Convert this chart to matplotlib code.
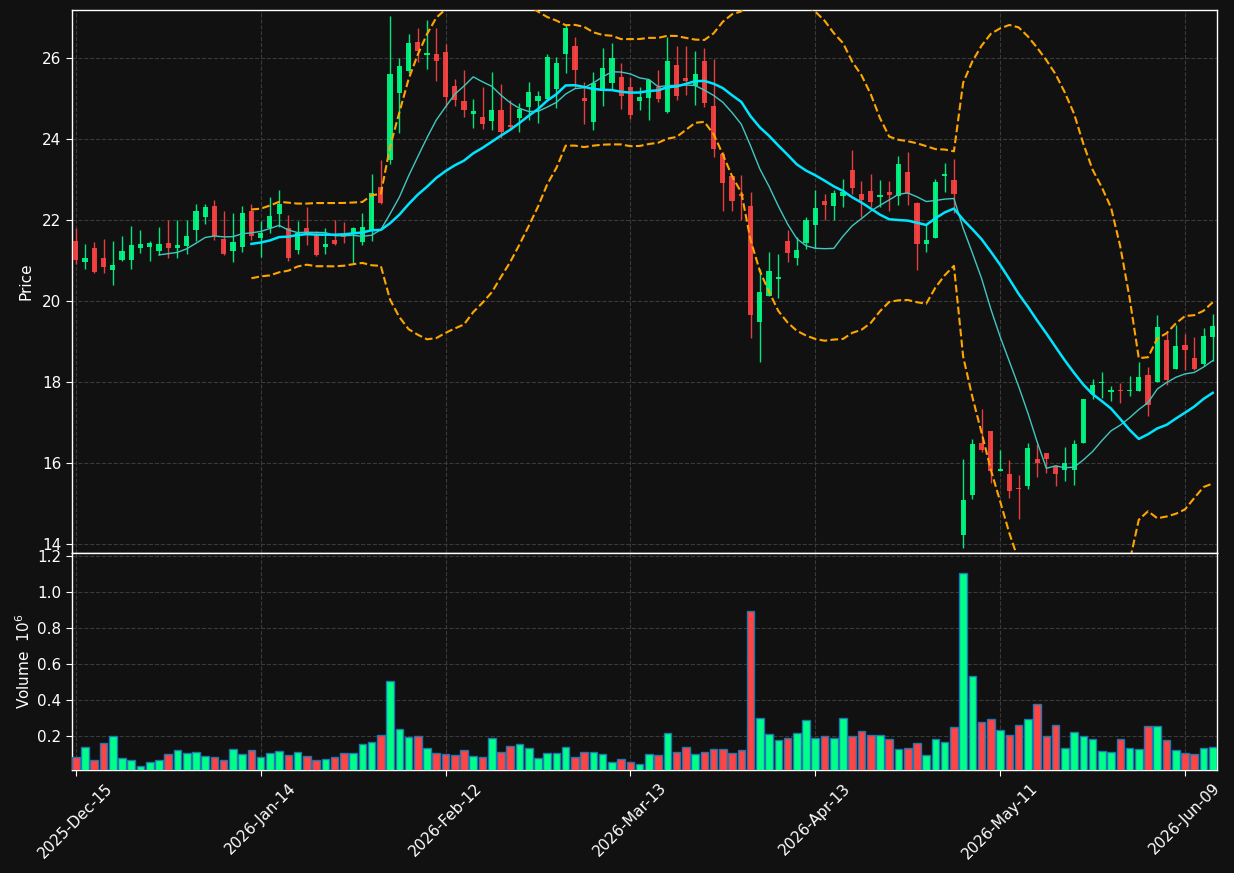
import numpy as np
import pandas as pd
import matplotlib
matplotlib.use("Agg")
import matplotlib.pyplot as plt

# ---------------- data ----------------
tick_positions = [0, 20, 40, 60, 80, 100, 120]
tick_labels = ["2025-Dec-15", "2026-Jan-14", "2026-Feb-12", "2026-Mar-13",
               "2026-Apr-13", "2026-May-11", "2026-Jun-09"]

opens = [21.48, 20.97, 21.31, 21.06, 20.77, 21.01, 21.01, 21.31, 21.33, 21.23,
         21.43, 21.31, 21.35, 21.75, 22.07, 22.34, 21.53, 21.23, 21.33, 22.22,
         21.56, 21.79, 22.14, 21.81, 21.26, 21.79, 21.62, 21.34, 21.50, 21.62,
         21.68, 21.46, 21.75, 22.80, 23.47, 25.13, 25.67, 26.40, 26.07, 26.10,
         26.15, 25.31, 24.93, 24.61, 24.55, 24.44, 24.70, 24.33, 24.51, 24.78,
         24.93, 24.98, 25.22, 26.09, 26.30, 25.01, 24.42, 25.18, 25.39, 25.52,
         25.27, 24.93, 25.01, 25.29, 24.66, 25.83, 25.51, 25.30, 25.91, 24.80,
         23.62, 23.08, 22.65, 22.34, 19.47, 20.13, 20.55, 21.48, 21.07, 21.42,
         21.88, 22.46, 22.35, 22.60, 23.23, 22.63, 22.71, 22.57, 22.68, 22.60,
         23.18, 22.41, 21.41, 21.56, 23.09, 22.98, 14.22, 15.21, 16.50, 16.80,
         15.80, 15.74, 15.37, 15.43, 16.09, 16.25, 15.92, 15.84, 15.82, 16.49,
         17.70, 17.97, 17.75, 17.81, 17.78, 17.79, 18.17, 17.99, 19.04, 18.33,
         18.92, 18.59, 18.44, 19.12]
highs = [21.79, 21.40, 21.45, 21.52, 21.48, 21.60, 21.85, 21.74, 21.48, 21.82,
         21.99, 21.99, 21.99, 22.40, 22.39, 22.48, 22.23, 22.16, 22.34, 22.39,
         21.97, 22.57, 22.75, 22.11, 21.98, 22.32, 21.73, 21.79, 21.99, 21.95,
         21.83, 22.16, 23.13, 23.49, 27.02, 26.00, 26.59, 26.74, 26.93, 26.74,
         26.33, 25.48, 25.70, 24.99, 25.29, 25.64, 25.36, 24.95, 24.89, 25.41,
         25.17, 26.10, 26.02, 26.80, 26.52, 25.40, 25.66, 26.25, 26.37, 25.88,
         25.52, 25.29, 25.48, 25.70, 26.51, 26.28, 26.28, 26.18, 26.25, 25.97,
         23.67, 23.10, 23.10, 22.69, 20.78, 21.20, 21.17, 21.74, 21.57, 22.08,
         22.75, 22.65, 22.73, 23.00, 23.72, 22.95, 23.14, 22.98, 22.95, 23.57,
         23.68, 22.45, 21.87, 23.00, 23.41, 23.50, 16.10, 16.60, 17.33, 16.80,
         16.32, 16.07, 15.70, 16.50, 16.46, 16.25, 15.96, 16.39, 16.56, 17.59,
         18.07, 18.24, 17.91, 17.97, 18.14, 18.49, 18.38, 19.65, 19.20, 19.40,
         19.18, 19.12, 19.33, 19.67]
lows = [20.90, 20.78, 20.70, 20.68, 20.39, 20.99, 20.78, 21.19, 20.99, 21.13,
        21.05, 21.05, 21.15, 21.48, 21.89, 21.50, 21.13, 20.95, 21.21, 21.50,
        21.09, 21.68, 21.83, 20.99, 21.17, 21.38, 21.11, 21.17, 21.38, 21.42,
        20.93, 21.38, 21.47, 22.40, 23.39, 24.14, 25.62, 25.89, 25.73, 25.42,
        24.78, 24.81, 24.54, 24.28, 24.24, 24.23, 24.01, 24.23, 24.17, 24.46,
        24.39, 24.95, 24.75, 25.63, 25.26, 24.37, 24.23, 24.80, 25.23, 24.74,
        24.50, 24.72, 24.46, 24.91, 24.64, 24.97, 25.09, 24.83, 24.78, 23.55,
        22.23, 22.23, 22.01, 19.08, 18.49, 20.11, 20.07, 20.95, 20.88, 21.27,
        21.30, 22.01, 22.01, 22.32, 22.65, 22.08, 22.32, 22.32, 22.21, 22.38,
        22.38, 20.76, 21.20, 21.56, 22.69, 22.16, 13.91, 15.11, 16.27, 15.51,
        15.80, 15.14, 14.63, 15.36, 15.66, 15.76, 15.43, 15.55, 15.47, 16.49,
        17.58, 17.60, 17.52, 17.48, 17.65, 17.77, 17.15, 17.99, 17.93, 18.33,
        18.30, 18.30, 18.40, 18.52]
closes = [21.01, 21.06, 20.72, 20.85, 20.89, 21.23, 21.38, 21.40, 21.43, 21.40,
          21.31, 21.38, 21.60, 22.22, 22.31, 21.60, 21.16, 21.45, 22.17, 21.60,
          21.67, 22.09, 22.39, 21.06, 21.68, 21.68, 21.13, 21.40, 21.40, 21.58,
          21.79, 21.83, 22.67, 22.42, 25.59, 25.79, 26.37, 26.16, 26.11, 25.92,
          25.03, 24.95, 24.70, 24.68, 24.36, 24.70, 24.17, 24.29, 24.73, 25.15,
          25.05, 26.01, 25.87, 26.74, 25.69, 24.93, 25.38, 25.74, 26.00, 25.07,
          24.60, 25.03, 25.46, 24.98, 25.91, 25.06, 25.44, 25.61, 24.88, 23.75,
          22.91, 22.47, 22.59, 19.66, 20.22, 20.74, 20.59, 21.19, 21.26, 21.99,
          22.29, 22.37, 22.66, 22.68, 22.79, 22.49, 22.45, 22.61, 22.61, 23.37,
          22.63, 21.41, 21.50, 22.93, 23.13, 22.64, 15.10, 16.48, 16.31, 15.80,
          15.86, 15.31, 15.36, 16.38, 16.00, 16.09, 15.72, 16.00, 16.46, 17.59,
          17.93, 17.98, 17.81, 17.78, 17.81, 18.13, 17.42, 19.36, 18.04, 18.89,
          18.78, 18.33, 19.14, 19.38]
# volume in millions
volumes = [0.083, 0.139, 0.067, 0.161, 0.200, 0.076, 0.067, 0.033, 0.056, 0.067,
           0.100, 0.122, 0.106, 0.111, 0.089, 0.083, 0.067, 0.128, 0.100, 0.122,
           0.083, 0.106, 0.117, 0.094, 0.111, 0.089, 0.067, 0.072, 0.083, 0.106,
           0.106, 0.156, 0.167, 0.206, 0.506, 0.239, 0.194, 0.200, 0.133, 0.106,
           0.100, 0.094, 0.122, 0.089, 0.083, 0.189, 0.111, 0.144, 0.156, 0.133,
           0.078, 0.106, 0.106, 0.139, 0.083, 0.111, 0.111, 0.100, 0.056, 0.072,
           0.056, 0.044, 0.100, 0.094, 0.217, 0.111, 0.139, 0.100, 0.111, 0.128,
           0.128, 0.106, 0.122, 0.894, 0.300, 0.211, 0.178, 0.189, 0.217, 0.289,
           0.189, 0.200, 0.189, 0.300, 0.200, 0.228, 0.206, 0.206, 0.183, 0.128,
           0.133, 0.161, 0.094, 0.183, 0.167, 0.250, 1.106, 0.533, 0.278, 0.294,
           0.233, 0.206, 0.261, 0.294, 0.378, 0.200, 0.261, 0.133, 0.222, 0.200,
           0.183, 0.117, 0.111, 0.183, 0.133, 0.128, 0.256, 0.256, 0.178, 0.122,
           0.106, 0.100, 0.133, 0.139]

# ---------------- styling ----------------
BG = "#111111"
UP = "#00ff88"
DOWN = "#ff4444"
GRID = "#3a3a3a"

df = pd.DataFrame({"Open": opens, "High": highs, "Low": lows, "Close": closes,
                   "Volume": volumes})
x = np.arange(len(df))
up = df["Close"] >= df["Open"]
colors = np.where(up, UP, DOWN)

mav10 = df["Close"].rolling(10).mean()
mav20 = df["Close"].rolling(20).mean()
std20 = df["Close"].rolling(20).std(ddof=0)
bb_up = mav20 + 2 * std20
bb_lo = mav20 - 2 * std20

fig = plt.figure(figsize=(12.34, 8.73), dpi=100, facecolor=BG)
ax = fig.add_axes([72 / 1234, 1 - 553 / 873, (1217 - 72) / 1234, (553 - 10) / 873])
axv = fig.add_axes([72 / 1234, 1 - 770 / 873, (1217 - 72) / 1234, (770 - 553) / 873],
                   sharex=ax)

for a in (ax, axv):
    a.set_facecolor(BG)
    for s in a.spines.values():
        s.set_color("white")
        s.set_linewidth(1.0)
    a.tick_params(colors="white", labelsize=11, length=4)
    a.grid(True, color=GRID, linestyle="--", linewidth=0.8)
    a.set_axisbelow(True)

# candles
ax.vlines(x, df["Low"], df["High"], colors=colors, linewidth=1.0, alpha=0.9, zorder=2)
body_bottom = np.minimum(df["Open"], df["Close"])
body_h = np.maximum((df["Close"] - df["Open"]).abs(), 0.03)
ax.bar(x, body_h, bottom=body_bottom, width=0.56, color=colors, alpha=0.9,
       linewidth=0, zorder=3)

# moving averages and bands
ax.plot(x, mav10, color="#40c8c0", linewidth=1.0, zorder=4)
ax.plot(x, mav20, color="#00e5ff", linewidth=1.8, zorder=4)
ax.plot(x, bb_up, color="#ffa500", linewidth=1.5, linestyle="--", zorder=4)
ax.plot(x, bb_lo, color="#ffa500", linewidth=1.5, linestyle="--", zorder=4)

ax.set_ylim(13.78, 27.18)
ax.set_yticks([14, 16, 18, 20, 22, 24, 26])
ax.set_ylabel("Price", color="white", fontsize=11)
ax.set_xlim(-0.41, 123.46)
plt.setp(ax.get_xticklabels(), visible=False)

# volume
axv.bar(x, df["Volume"], width=0.82, color=colors, edgecolor="#1f77b4",
        linewidth=1.0, zorder=3)
axv.set_ylim(0.3 * min(volumes), 1.1 * max(volumes))
axv.set_yticks([0.2, 0.4, 0.6, 0.8, 1.0, 1.2])
axv.set_yticklabels(["0.2", "0.4", "0.6", "0.8", "1.0", "1.2"])
axv.set_ylabel("Volume  $10^6$", color="white", fontsize=11)
axv.set_xticks(tick_positions)
axv.set_xticklabels(tick_labels, rotation=45, fontsize=11, color="white")

ax.yaxis.set_label_coords(-0.034, 0.5)
axv.yaxis.set_label_coords(-0.034, 0.5)

fig.savefig("out.png", dpi=100, facecolor=BG)
